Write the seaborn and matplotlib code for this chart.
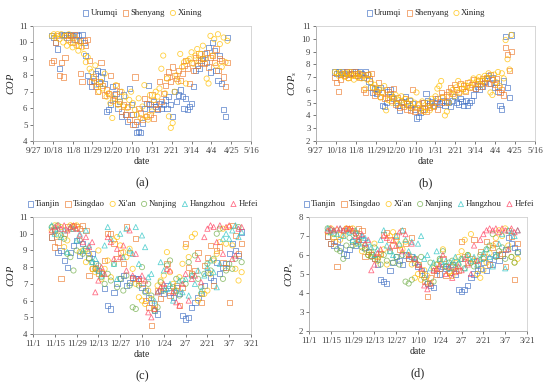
import pandas as pd
import seaborn as sns
import matplotlib.pyplot as plt

# ==========================
# Data
# ==========================

# (a)/(b): one value every 2 days from 10/17 to 4/21
URUMQI_COP = [
    10.4, 10.3, 10.0, 9.6, 8.4, 10.5, 10.4, 10.5, 10.3, 10.5,
    10.5, 10.4, 10.2, 10.5, 10.4, 10.1, 10.5, 10.0, 9.2, 8.0,
    7.6, 7.3, 7.7, 8.1, 8.3, 7.5, 7.9, 8.2, 7.5, 5.8,
    5.9, 6.2, 7.3, 6.6, 6.9, 6.0, 6.4, 5.5, 6.8, 5.6,
    5.2, 7.2, 6.2, 5.6, 5.0, 4.5, 4.6, 4.5, 5.1, 6.0,
    6.3, 7.4, 6.2, 6.0, 6.4, 6.1, 5.9, 6.3, 6.0, 6.2,
    6.5, 6.0, 6.7, 6.2, 5.5, 7.0, 6.4, 6.8, 7.1, 6.7,
    6.0, 6.6, 5.9, 6.1, 6.3, 7.3, 8.3, 8.6, 8.4, 8.9,
    9.0, 9.3, 8.8, 9.7, 8.2, 10.0, 9.5, 8.3, 7.7, 9.2,
    7.5, 5.9, 5.5, 10.3,
]
SHENYANG_COP = [
    8.8, 8.9, 10.0, 10.4, 8.0, 8.8, 7.9, 9.1, 10.4, 10.2,
    10.4, 10.0, 10.5, 10.2, 9.8, 8.1, 7.6, 10.1, 9.8, 10.2,
    8.9, 7.6, 7.9, 7.3, 7.0, 7.6, 8.8, 7.4, 6.8, 7.1,
    6.9, 8.0, 6.5, 6.8, 7.4, 6.3, 7.0, 5.8, 6.2, 5.6,
    6.1, 5.3, 5.6, 5.0, 7.9, 5.2, 6.0, 5.7, 5.3, 6.6,
    5.5, 6.3, 5.6, 6.8, 5.4, 6.2, 6.0, 7.6, 6.4, 6.9,
    7.4, 7.9, 8.2, 7.6, 8.5, 8.0, 7.8, 8.3, 7.7, 8.1,
    8.6, 8.9, 8.4, 7.5, 8.8, 8.3, 9.1, 8.6, 9.3, 8.8,
    9.0, 8.7, 9.4, 8.5, 9.1, 9.2, 8.8, 9.6, 8.3, 9.0,
    8.9, 7.9, 7.3, 8.8,
]
XINING_COP = [
    10.4, 10.5, 10.3, 10.5, 10.2, 10.5, 10.0, 10.4, 9.8, 10.5,
    10.0, 9.7, 10.3, 9.8, 9.5, 10.0, 9.7, 9.3, 8.8, 9.1,
    8.4, 8.2, 7.8, 8.6, 7.4, 7.0, 7.6, 7.2, 8.1, 6.7,
    6.9, 6.3, 5.4, 6.6, 7.4, 6.2, 6.4, 7.0, 6.1, 6.7,
    6.0, 6.5, 7.0, 6.3, 5.9, 5.6, 6.6, 5.4, 6.1, 7.4,
    5.5, 5.3, 6.8, 5.8, 6.5, 7.0, 6.7, 7.2, 8.4, 9.2,
    6.9, 7.8, 5.5, 4.8, 5.1, 7.0, 8.0, 7.6, 9.3, 8.5,
    8.8, 7.5, 8.9, 9.0, 9.4, 8.7, 9.2, 9.6, 8.9, 9.3,
    9.8, 9.0, 7.8, 7.5, 10.4, 9.2, 10.2, 8.6, 10.5, 9.9,
    8.5, 10.3, 8.8, 10.1,
]
URUMQI_COPS = [
    7.4, 7.3, 7.4, 7.2, 7.4, 7.3, 7.4, 7.2, 7.3, 7.4,
    7.3, 7.4, 7.1, 7.4, 7.3, 7.0, 7.4, 7.2, 6.7, 6.2,
    5.8, 6.1, 5.7, 6.0, 6.2, 4.8, 4.7, 5.0, 5.9, 6.0,
    5.5, 5.3, 5.0, 4.8, 4.4, 5.1, 5.0, 5.5, 4.9, 5.2,
    4.6, 4.9, 4.5, 3.8, 3.9, 4.2, 4.5, 5.0, 5.7, 5.2,
    4.9, 5.1, 4.8, 5.0, 5.3, 4.9, 5.0, 5.2, 4.8, 5.1,
    5.0, 4.7, 5.2, 5.5, 5.0, 4.9, 5.3, 5.1, 4.8, 5.2,
    4.8, 5.0, 5.2, 5.6, 6.1, 6.3, 6.0, 6.5, 6.3, 6.7,
    6.9, 7.1, 6.5, 7.0, 6.2, 6.6, 5.9, 4.8, 4.5, 6.7,
    10.2, 6.2, 5.4, 10.3,
]
SHENYANG_COPS = [
    7.0, 6.6, 5.9, 6.8, 7.3, 7.1, 7.4, 7.0, 7.2, 7.3,
    7.4, 7.1, 7.3, 7.0, 7.2, 6.0, 5.8, 7.2, 6.9, 7.3,
    6.2, 5.6, 5.9, 6.6, 5.5, 5.8, 5.3, 6.0, 5.4, 5.7,
    5.2, 6.1, 4.9, 5.4, 4.6, 5.0, 4.7, 5.3, 4.5, 4.9,
    4.4, 6.0, 4.3, 4.6, 4.9, 4.4, 5.0, 4.5, 4.3, 4.8,
    4.6, 5.0, 4.7, 5.3, 4.5, 5.1, 5.8, 5.5, 5.0, 5.6,
    5.9, 6.2, 5.7, 6.4, 6.0, 5.8, 6.5, 6.1, 6.3, 5.9,
    6.6, 6.2, 6.4, 6.8, 6.1, 6.5, 6.7, 6.3, 6.9, 6.6,
    7.0, 6.5, 7.2, 6.8, 6.4, 6.9, 6.2, 5.8, 6.0, 5.6,
    9.3, 8.8, 7.5, 9.0,
]
XINING_COPS = [
    7.4, 7.3, 7.1, 7.4, 7.2, 7.0, 7.3, 6.9, 7.4, 7.1,
    6.8, 7.2, 7.0, 7.3, 6.9, 7.1, 6.1, 6.8, 7.2, 6.6,
    6.2, 6.4, 5.9, 6.1, 5.4, 5.8, 6.3, 4.4, 5.2, 5.6,
    5.0, 5.4, 5.6, 4.9, 5.2, 5.5, 4.8, 5.3, 5.0, 4.7,
    5.2, 4.6, 5.0, 5.8, 4.8, 4.5, 5.1, 4.3, 4.6, 5.0,
    4.4, 5.3, 4.7, 5.5, 6.1, 6.3, 6.7, 5.4, 4.0, 4.3,
    5.0, 5.7, 6.0, 5.5, 6.2, 6.7, 5.8, 6.1, 6.4, 5.9,
    6.3, 6.6, 6.2, 6.9, 6.5, 6.8, 7.0, 6.4, 6.7, 7.1,
    6.9, 7.3, 5.8, 5.6, 7.2, 6.6, 7.4, 6.3, 7.3, 6.9,
    9.9, 8.4, 7.6, 10.3,
]

# (c)/(d): one value every 2 days from 11/13 to 3/15
TIANJIN_COP = [
    9.8, 10.2, 8.9, 9.0, 8.4, 8.0, 8.9,
    9.3, 9.6, 8.7, 9.4, 9.0, 8.6, 8.8,
    8.2, 7.8, 7.6, 6.7, 5.7, 5.5, 6.5,
    7.0, 7.3, 7.5, 6.9, 7.1, 7.4, 7.3,
    7.3, 6.8, 6.6, 6.2, 5.9, 5.4, 5.2,
    6.6, 6.4, 6.9, 6.5, 6.2, 6.8, 6.4,
    5.1, 4.9, 5.0, 5.6, 5.9, 6.2, 6.4,
    6.9, 7.7, 7.4, 7.2, 8.3, 7.6, 8.0,
    8.2, 8.8, 9.4, 9.0, 8.7, 10.1,
]
TSINGDAO_COP = [
    9.8, 9.2, 9.5, 7.3, 10.0, 10.4, 10.3,
    10.5, 10.4, 10.3, 10.5, 10.2, 7.5, 7.9,
    8.0, 7.6, 7.7, 8.4, 10.0, 10.0, 9.4,
    8.5, 8.9, 8.2, 10.4, 8.9, 7.3, 9.7,
    7.2, 7.0, 6.0, 5.6, 4.5, 5.8, 6.6,
    6.1, 6.8, 8.2, 6.3, 6.6, 6.9, 5.7,
    6.8, 9.4, 8.0, 7.6, 7.8, 8.9, 5.9,
    8.1, 8.6, 9.3, 6.9, 9.0, 9.2, 8.3,
    8.0, 5.9, 10.5, 9.9, 8.8, 9.4,
]
XIAN_COP = [
    10.2, 10.5, 9.9, 10.4, 9.2, 9.6, 10.5,
    10.4, 10.5, 8.9, 9.0, 8.3, 8.8, 7.9,
    7.7, 9.0, 7.3, 7.9, 8.4, 7.4, 9.6,
    9.8, 9.3, 8.9, 8.6, 9.1, 7.9, 7.0,
    6.2, 6.0, 5.8, 6.6, 6.1, 5.5, 6.9,
    7.2, 7.5, 8.9, 7.7, 7.0, 6.6, 7.4,
    8.2, 9.2, 8.6, 9.8, 10.0, 6.0, 6.4,
    6.4, 6.6, 7.6, 8.4, 8.8, 9.5, 10.3,
    9.4, 10.4, 9.3, 7.9, 7.2, 7.7,
]
NANJING_COP = [
    10.4, 10.2, 10.5, 9.9, 9.7, 8.8, 8.6,
    7.8, 9.0, 9.6, 8.8, 9.1, 8.5, 8.3,
    7.9, 8.1, 7.4, 7.0, 7.6, 7.2, 8.2,
    6.8, 7.3, 6.6, 7.5, 6.9, 5.6, 5.5,
    6.9, 8.0, 6.5, 7.0, 6.3, 5.4, 5.6,
    7.1, 6.6, 8.1, 8.4, 6.8, 7.3, 6.3,
    7.2, 7.0, 8.3, 7.5, 8.7, 7.3, 6.8,
    7.6, 8.2, 7.8, 8.5, 10.0, 10.3, 7.3,
    7.8, 8.2, 7.9, 8.5, 10.4, 8.3,
]
HANGZHOU_COP = [
    10.5, 10.0, 10.3, 9.8, 10.2, 8.9, 10.4,
    10.3, 9.6, 10.0, 9.0, 10.2, 9.3, 8.3,
    8.5, 7.8, 7.5, 9.3, 10.4, 9.7, 8.2,
    7.3, 10.0, 8.6, 10.3, 9.0, 8.8, 10.4,
    8.2, 9.9, 9.2, 7.4, 7.6, 6.0, 6.5,
    8.3, 7.8, 6.7, 7.0, 6.0, 6.6, 7.2,
    6.5, 7.3, 6.3, 7.5, 7.0, 7.8, 6.6,
    7.5, 8.0, 8.4, 7.7, 6.8, 8.2, 9.7,
    10.0, 9.7, 10.2, 10.5, 9.8, 10.1,
]
HEFEI_COP = [
    10.2, 10.4, 10.5, 10.3, 10.5, 10.2, 10.4,
    10.5, 10.3, 9.9, 9.5, 9.8, 9.2, 9.5,
    6.5, 7.2, 8.0, 7.6, 9.8, 9.5, 8.5,
    9.1, 8.6, 9.3, 7.8, 10.2, 7.5, 8.8,
    7.3, 7.5, 7.2, 5.3, 5.0, 5.5, 6.5,
    6.8, 7.0, 7.9, 7.8, 6.5, 5.9, 5.7,
    7.0, 7.6, 6.0, 7.3, 7.5, 8.5, 7.1,
    9.8, 10.3, 10.5, 10.4, 9.5, 10.5, 8.8,
    10.4, 10.5, 8.5, 8.7, 10.3, 10.4,
]
TIANJIN_COPS = [
    7.0, 6.6, 6.5, 6.7, 6.4, 6.1, 6.0,
    6.3, 6.7, 6.5, 7.0, 6.8, 6.4, 6.2,
    6.0, 5.8, 5.5, 4.7, 4.6, 4.5, 5.2,
    5.6, 5.9, 5.7, 5.5, 6.0, 5.8, 5.9,
    5.6, 5.4, 5.2, 5.0, 4.5, 4.4, 4.3,
    5.2, 5.0, 5.4, 5.3, 5.1, 5.5, 5.0,
    4.2, 4.1, 4.2, 4.4, 4.8, 5.0, 5.2,
    5.3, 5.6, 5.2, 5.8, 5.5, 6.0, 5.7,
    6.0, 6.3, 6.9, 6.6, 6.4, 6.2,
]
TSINGDAO_COPS = [
    7.0, 6.6, 6.7, 5.4, 7.1, 7.3, 7.4,
    7.4, 7.3, 7.2, 7.4, 7.3, 5.9, 6.2,
    6.0, 5.8, 5.9, 6.1, 7.1, 7.2, 6.8,
    6.5, 7.0, 6.3, 7.3, 6.6, 5.8, 6.9,
    5.8, 5.5, 5.0, 4.6, 3.8, 4.8, 5.2,
    5.0, 5.3, 5.8, 4.9, 5.1, 5.4, 5.2,
    5.2, 6.7, 5.9, 5.6, 5.8, 6.8, 5.5,
    6.2, 5.9, 6.7, 5.5, 6.4, 6.6, 6.0,
    6.1, 5.4, 7.3, 7.0, 4.7, 6.6,
]
XIAN_COPS = [
    7.2, 7.4, 6.9, 7.3, 6.8, 7.0, 7.4,
    7.3, 7.4, 6.6, 6.8, 6.2, 6.5, 6.0,
    6.1, 6.6, 5.7, 6.0, 6.3, 5.5, 7.0,
    7.2, 6.8, 6.5, 6.3, 6.7, 6.0, 5.5,
    4.8, 5.0, 4.7, 5.2, 4.9, 4.5, 5.3,
    5.5, 5.7, 6.3, 5.4, 5.1, 4.9, 5.6,
    5.9, 6.2, 6.8, 6.0, 7.1, 5.7, 5.0,
    4.8, 5.2, 5.6, 6.1, 6.5, 6.9, 7.3,
    7.0, 7.4, 6.5, 5.9, 5.6, 5.8,
]
NANJING_COPS = [
    7.4, 7.3, 7.1, 6.3, 6.2, 5.8, 6.5,
    6.9, 6.5, 7.1, 6.7, 6.4, 6.3, 6.0,
    5.9, 6.4, 5.8, 5.5, 6.0, 5.7, 6.2,
    5.6, 5.9, 5.5, 6.0, 4.6, 4.5, 4.7,
    5.8, 5.5, 5.9, 4.8, 4.5, 5.6, 4.6,
    5.5, 5.8, 6.2, 5.4, 5.6, 5.7, 5.3,
    5.5, 5.8, 5.3, 6.0, 5.6, 5.4, 5.7,
    6.0, 5.8, 6.3, 6.5, 7.1, 5.9, 6.2,
    6.4, 5.8, 6.3, 5.9, 5.6, 6.1,
]
HANGZHOU_COPS = [
    7.4, 7.2, 7.3, 7.1, 7.4, 7.0, 7.3,
    7.2, 6.8, 7.3, 6.6, 7.0, 6.9, 6.7,
    6.4, 6.0, 6.3, 6.8, 7.3, 6.5, 6.2,
    6.0, 7.0, 6.6, 7.3, 6.8, 6.2, 6.7,
    5.9, 6.6, 7.0, 5.8, 6.0, 5.3, 5.6,
    6.2, 5.8, 5.5, 5.7, 5.3, 5.6, 5.9,
    5.6, 5.8, 5.3, 6.0, 5.7, 5.9, 5.5,
    5.8, 6.1, 6.3, 5.9, 5.4, 6.0, 6.6,
    7.1, 5.3, 7.3, 7.2, 7.0, 7.3,
]
HEFEI_COPS = [
    7.3, 7.4, 7.3, 7.4, 7.4, 7.3, 7.4,
    7.4, 7.3, 7.0, 6.8, 7.1, 6.6, 6.8,
    5.2, 5.5, 6.1, 6.3, 7.0, 6.9, 6.4,
    6.8, 6.5, 7.2, 6.2, 7.1, 6.0, 6.6,
    5.8, 5.5, 5.3, 4.4, 4.2, 4.5, 5.2,
    5.3, 5.5, 6.0, 5.0, 5.4, 4.8, 5.1,
    5.4, 5.2, 5.8, 5.5, 5.0, 6.5, 5.7,
    6.8, 7.1, 7.3, 7.4, 7.3, 7.4, 7.2,
    7.4, 7.3, 6.3, 7.4, 7.2, 7.3,
]

CITIES_AB = ["Urumqi", "Shenyang", "Xining"]
CITIES_CD = ["Tianjin", "Tsingdao", "Xi'an", "Nanjing", "Hangzhou", "Hefei"]

AB_TICK_LABELS = ["9/27", "10/18", "11/8", "11/29", "12/20", "1/10",
                  "1/31", "2/21", "3/14", "4/4", "4/25", "5/16"]
CD_TICK_LABELS = ["11/1", "11/15", "11/29", "12/13", "12/27", "1/10",
                  "1/24", "2/7", "2/21", "3/7", "3/21"]

# ==========================
# Styling
# ==========================

colors = {
    "Urumqi": "#4472C4", "Shenyang": "#ED7D31", "Xining": "#FFC000",
    "Tianjin": "#4472C4", "Tsingdao": "#ED7D31", "Xi'an": "#FFC000",
    "Nanjing": "#70AD47", "Hangzhou": "#2BC4C4", "Hefei": "#FF4060",
}
markers = {
    "Urumqi": "s", "Shenyang": "s", "Xining": "o",
    "Tianjin": "s", "Tsingdao": "s", "Xi'an": "o",
    "Nanjing": "o", "Hangzhou": "^", "Hefei": "^",
}

sns.set_style("white")
plt.rcParams["font.family"] = ["Liberation Serif", "DejaVu Serif"]
plt.rcParams["mathtext.fontset"] = "custom"
plt.rcParams["mathtext.it"] = "Liberation Serif:italic"
plt.rcParams["mathtext.rm"] = "Liberation Serif"

dates_ab = pd.date_range("2018-10-17", periods=len(URUMQI_COP), freq="2D")
dates_cd = pd.date_range("2018-11-13", periods=len(TIANJIN_COP), freq="2D")
ticks_ab = pd.date_range("2018-09-27", periods=len(AB_TICK_LABELS), freq="21D")
ticks_cd = pd.date_range("2018-11-01", periods=len(CD_TICK_LABELS), freq="14D")


def long_frame(dates, cities, series):
    parts = []
    for city, vals in zip(cities, series):
        parts.append(pd.DataFrame({"date": dates, "value": vals, "city": city}))
    return pd.concat(parts, ignore_index=True)


df_a = long_frame(dates_ab, CITIES_AB, [URUMQI_COP, SHENYANG_COP, XINING_COP])
df_b = long_frame(dates_ab, CITIES_AB, [URUMQI_COPS, SHENYANG_COPS, XINING_COPS])
df_c = long_frame(dates_cd, CITIES_CD, [TIANJIN_COP, TSINGDAO_COP, XIAN_COP,
                                        NANJING_COP, HANGZHOU_COP, HEFEI_COP])
df_d = long_frame(dates_cd, CITIES_CD, [TIANJIN_COPS, TSINGDAO_COPS, XIAN_COPS,
                                        NANJING_COPS, HANGZHOU_COPS, HEFEI_COPS])

fig = plt.figure(figsize=(5.5, 3.83), dpi=100)

W, H = 550, 383
panels = [
    # df, cities, box (left, top, right, bottom in px), ylim, ylabel, ticks, labels, tag
    (df_a, CITIES_AB, (33, 26, 251, 141), (4, 11), r"$COP$", ticks_ab, AB_TICK_LABELS, "(a)"),
    (df_b, CITIES_AB, (316, 26, 535, 141), (2, 11), r"$COP_s$", ticks_ab, AB_TICK_LABELS, "(b)"),
    (df_c, CITIES_CD, (33, 217, 251, 334), (4, 11), r"$COP$", ticks_cd, CD_TICK_LABELS, "(c)"),
    (df_d, CITIES_CD, (309, 217, 527, 331), (2, 8), r"$COP_s$", ticks_cd, CD_TICK_LABELS, "(d)"),
]

for df, cities, box, ylim, ylabel, ticks, labels, tag in panels:
    l, t, r, b = box
    ax = fig.add_axes([l / W, 1 - b / H, (r - l) / W, (b - t) / H])

    for city in cities:
        sub = df[df["city"] == city]
        sns.scatterplot(
            data=sub, x="date", y="value",
            marker=markers[city],
            color=colors[city],
            facecolor="none",
            edgecolor=colors[city],
            linewidth=0.6,
            s=14,
            alpha=0.75,
            label=city,
            legend=False,
            ax=ax,
        )

    ax.set_xlim(ticks[0], ticks[-1])
    ax.set_ylim(*ylim)
    ax.set_xticks(ticks)
    ax.set_xticklabels(labels)
    ax.set_yticks(range(ylim[0], ylim[1] + 1))

    ax.tick_params(axis="both", labelsize=6.3, colors="#404040", length=2.5,
                   width=0.5, pad=1.5, direction="out", bottom=True, left=True)
    for side in ["left", "bottom"]:
        ax.spines[side].set_color("#a6a6a6")
        ax.spines[side].set_linewidth(0.6)
    for side in ["top", "right"]:
        ax.spines[side].set_color("#d0d0d0")
        ax.spines[side].set_linewidth(0.6)

    ax.set_xlabel("date", fontsize=7, labelpad=2, color="#262626")
    ax.set_ylabel(ylabel, fontsize=7.5, labelpad=2, color="#262626")

    handles, hl = ax.get_legend_handles_labels()
    ax.legend(handles, hl, loc="lower center", bbox_to_anchor=(0.5, 1.03),
              ncol=len(cities), frameon=False, fontsize=6.3,
              handletextpad=0.1, columnspacing=0.45, markerscale=1.0,
              borderaxespad=0.2, handlelength=0.9)

    fig.text((l + r) / 2 / W, 1 - (b + 42) / H, tag, ha="center", va="center",
             fontsize=9)

fig.savefig("out.png", dpi=100)
